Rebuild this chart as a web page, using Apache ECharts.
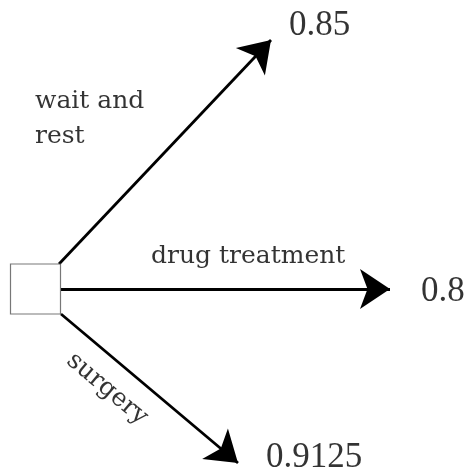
<!DOCTYPE html>
<html>
<head>
<meta charset="utf-8">
<script src="https://cdn.jsdelivr.net/npm/echarts@6/dist/echarts.min.js"></script>
<style>
  html,body{margin:0;padding:0;background:#fff}
  #chart{width:474px;height:474px}
</style>
</head>
<body>
<div id="chart"></div>
<script>
// diagram units: same scale as the picture, y grows downward
const decisionNode = [35.5, 289];
const branchNames = ['wait and\nrest', 'drug treatment', 'surgery'];
const branchStarts = [[59, 264], [61, 289], [61, 314]];
const branchEnds = [[271, 40], [390, 289], [238, 463]];
const branchLabelAt = [[35, 119], [151, 256], [107, 389]];
const branchLabelRotate = [0, 0, -40];
const outcomeValues = ['0.85', '0.8', '0.9125'];
const outcomeAt = [[289, 26], [421, 292], [266, 458]];

const serif = 'Liberation Serif';
const textFont = 'DejaVu Serif';

const chart = echarts.init(document.getElementById('chart'));

const option = {
  animation: false,
  grid: { left: 0, right: 0, top: 0, bottom: 0 },
  xAxis: { type: 'value', min: 0, max: 474, show: false },
  yAxis: { type: 'value', min: 0, max: 474, inverse: true, show: false },
  series: [
    {
      type: 'lines',
      coordinateSystem: 'cartesian2d',
      symbol: ['none', 'arrow'],
      symbolSize: 30,
      lineStyle: { color: '#000', width: 2.8, opacity: 1 },
      data: branchStarts.map((s, i) => ({ coords: [s, branchEnds[i]] })),
      z: 2
    },
    {
      type: 'scatter',
      symbol: 'rect',
      symbolSize: 50,
      itemStyle: { color: '#fff', borderColor: '#555', borderWidth: 1.2 },
      data: [decisionNode],
      z: 3
    },
    {
      type: 'scatter',
      symbolSize: 0,
      silent: true,
      data: branchNames.map((name, i) => ({
        value: branchLabelAt[i],
        label: {
          show: true,
          formatter: name,
          position: i === 2 ? 'inside' : 'right',
          distance: 0,
          rotate: branchLabelRotate[i],
          align: i === 2 ? 'center' : 'left',
          verticalAlign: 'middle',
          fontFamily: textFont,
          fontSize: 25,
          lineHeight: 35,
          color: '#000',
          textBorderWidth: 0
        }
      }))
    },
    {
      type: 'scatter',
      symbolSize: 0,
      silent: true,
      data: outcomeValues.map((v, i) => ({
        value: outcomeAt[i],
        label: {
          show: true,
          formatter: v,
          position: 'right',
          distance: 0,
          verticalAlign: 'middle',
          fontFamily: serif,
          fontSize: 35,
          color: '#000'
        }
      }))
    }
  ]
};
chart.setOption(option);
</script>
</body>
</html>
